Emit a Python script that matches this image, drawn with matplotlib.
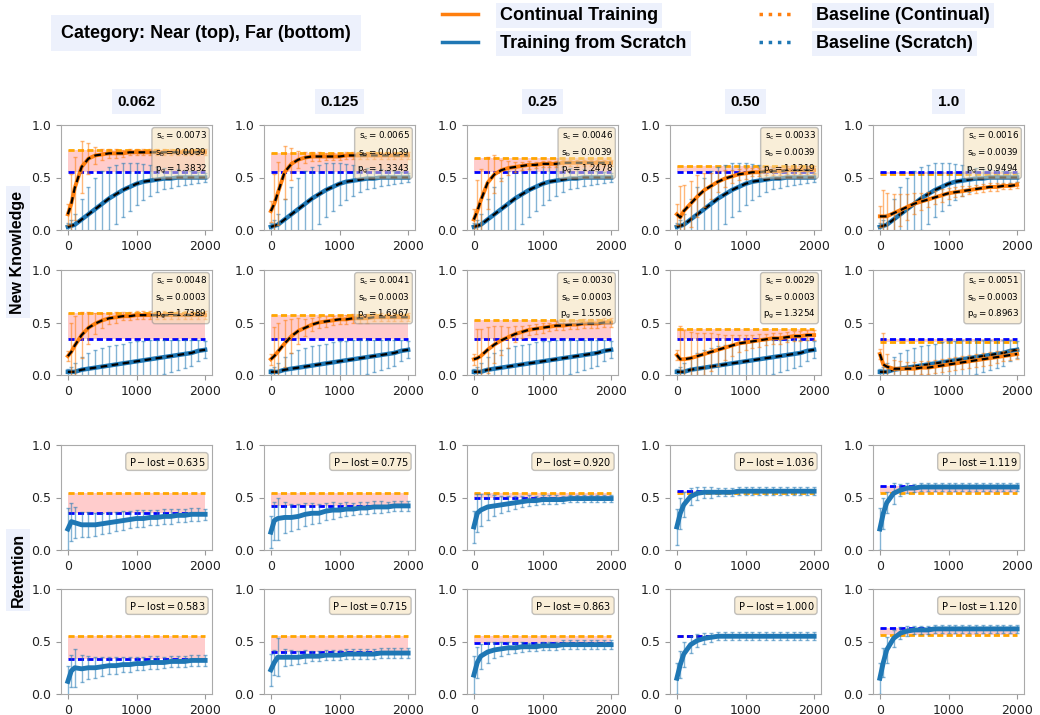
import numpy as np
import matplotlib
matplotlib.use('Agg')
import matplotlib.pyplot as plt
from matplotlib.lines import Line2D

# paso de entrenamiento (eje x comun)
steps = [0, 50, 100, 200, 300, 400, 500, 600, 700, 800, 900, 1000,
         1100, 1200, 1300, 1400, 1500, 1600, 1700, 1800, 1900, 2000]
col_labels = ['0.062', '0.125', '0.25', '0.50', '1.0']

# ---- New Knowledge, Near (fila 1) ----
scratch_near = [0.03, 0.04, 0.05, 0.10, 0.15, 0.20, 0.25, 0.30, 0.34, 0.38, 0.41, 0.44,
                0.46, 0.47, 0.48, 0.49, 0.49, 0.50, 0.50, 0.50, 0.50, 0.50]
scratch_near_err = [0.04, 0.06, 0.10, 0.20, 0.26, 0.30, 0.31, 0.30, 0.28, 0.26, 0.23, 0.20,
                    0.17, 0.15, 0.12, 0.10, 0.09, 0.08, 0.07, 0.06, 0.05, 0.04]
cont_near = [
    [0.15, 0.25, 0.40, 0.60, 0.68, 0.71, 0.72, 0.73, 0.73, 0.73, 0.74, 0.74,
     0.74, 0.74, 0.74, 0.74, 0.74, 0.74, 0.74, 0.74, 0.74, 0.74],
    [0.18, 0.25, 0.35, 0.55, 0.63, 0.67, 0.69, 0.70, 0.70, 0.70, 0.70, 0.70,
     0.71, 0.71, 0.71, 0.71, 0.71, 0.71, 0.71, 0.71, 0.71, 0.71],
    [0.10, 0.18, 0.28, 0.45, 0.53, 0.57, 0.59, 0.60, 0.61, 0.62, 0.62, 0.63,
     0.63, 0.63, 0.64, 0.64, 0.64, 0.64, 0.64, 0.64, 0.64, 0.64],
    [0.15, 0.12, 0.18, 0.25, 0.32, 0.38, 0.42, 0.46, 0.49, 0.51, 0.53, 0.54,
     0.55, 0.55, 0.56, 0.56, 0.56, 0.57, 0.57, 0.57, 0.57, 0.57],
    [0.13, 0.13, 0.13, 0.16, 0.19, 0.22, 0.25, 0.27, 0.29, 0.31, 0.33, 0.35,
     0.36, 0.37, 0.38, 0.39, 0.40, 0.41, 0.41, 0.42, 0.42, 0.43],
]
cont_near_err = [
    [0.10, 0.28, 0.30, 0.25, 0.15, 0.08, 0.05, 0.04, 0.04, 0.03, 0.03, 0.03,
     0.03, 0.03, 0.03, 0.03, 0.03, 0.03, 0.03, 0.03, 0.03, 0.03],
    [0.10, 0.28, 0.30, 0.25, 0.15, 0.08, 0.05, 0.04, 0.04, 0.03, 0.03, 0.03,
     0.03, 0.03, 0.03, 0.03, 0.03, 0.03, 0.03, 0.03, 0.03, 0.03],
    [0.10, 0.30, 0.30, 0.25, 0.18, 0.10, 0.07, 0.05, 0.04, 0.04, 0.03, 0.03,
     0.03, 0.03, 0.03, 0.03, 0.03, 0.03, 0.03, 0.03, 0.03, 0.03],
    [0.10, 0.30, 0.25, 0.22, 0.20, 0.16, 0.12, 0.10, 0.08, 0.06, 0.05, 0.05,
     0.04, 0.04, 0.04, 0.04, 0.04, 0.04, 0.04, 0.04, 0.04, 0.04],
    [0.10, 0.25, 0.22, 0.18, 0.15, 0.12, 0.10, 0.08, 0.07, 0.06, 0.06, 0.05,
     0.05, 0.05, 0.04, 0.04, 0.04, 0.04, 0.04, 0.03, 0.03, 0.03],
]
base_cont_near = [0.76, 0.73, 0.69, 0.61, 0.53]
base_scr_near = [0.55, 0.55, 0.55, 0.55, 0.55]
stats_near = [(0.0073, 0.0039, 1.3832), (0.0065, 0.0039, 1.3343), (0.0046, 0.0039, 1.2478),
              (0.0033, 0.0039, 1.1219), (0.0016, 0.0039, 0.9494)]

# ---- New Knowledge, Far (fila 2) ----
scratch_far = [0.03, 0.03, 0.03, 0.05, 0.06, 0.07, 0.08, 0.09, 0.10, 0.11, 0.12, 0.13,
               0.14, 0.15, 0.16, 0.17, 0.18, 0.19, 0.20, 0.21, 0.23, 0.24]
scratch_far_err = [0.03, 0.05, 0.08, 0.12, 0.15, 0.17, 0.18, 0.19, 0.19, 0.19, 0.19, 0.19,
                   0.18, 0.18, 0.17, 0.16, 0.15, 0.14, 0.13, 0.12, 0.10, 0.08]
cont_far = [
    [0.18, 0.22, 0.28, 0.38, 0.45, 0.49, 0.52, 0.54, 0.55, 0.56, 0.56, 0.57,
     0.57, 0.57, 0.57, 0.57, 0.57, 0.57, 0.57, 0.57, 0.57, 0.57],
    [0.15, 0.18, 0.22, 0.30, 0.37, 0.42, 0.45, 0.48, 0.50, 0.51, 0.52, 0.53,
     0.53, 0.54, 0.54, 0.54, 0.55, 0.55, 0.55, 0.55, 0.55, 0.55],
    [0.15, 0.16, 0.18, 0.24, 0.29, 0.33, 0.36, 0.39, 0.41, 0.43, 0.44, 0.45,
     0.46, 0.47, 0.47, 0.48, 0.48, 0.49, 0.49, 0.49, 0.50, 0.50],
    [0.19, 0.15, 0.15, 0.16, 0.18, 0.20, 0.22, 0.24, 0.26, 0.28, 0.30, 0.31,
     0.32, 0.33, 0.34, 0.35, 0.35, 0.36, 0.37, 0.37, 0.38, 0.38],
    [0.20, 0.10, 0.08, 0.06, 0.06, 0.06, 0.06, 0.07, 0.07, 0.08, 0.09, 0.10,
     0.11, 0.12, 0.13, 0.14, 0.15, 0.16, 0.17, 0.18, 0.19, 0.20],
]
cont_far_err = [
    [0.05, 0.28, 0.28, 0.22, 0.15, 0.10, 0.07, 0.05, 0.05, 0.04, 0.04, 0.04,
     0.04, 0.04, 0.04, 0.04, 0.04, 0.04, 0.04, 0.04, 0.04, 0.04],
    [0.05, 0.28, 0.28, 0.22, 0.16, 0.12, 0.08, 0.06, 0.05, 0.05, 0.04, 0.04,
     0.04, 0.04, 0.04, 0.04, 0.04, 0.04, 0.04, 0.04, 0.04, 0.04],
    [0.05, 0.28, 0.26, 0.22, 0.18, 0.14, 0.10, 0.08, 0.06, 0.05, 0.05, 0.05,
     0.04, 0.04, 0.04, 0.04, 0.04, 0.04, 0.04, 0.04, 0.04, 0.04],
    [0.05, 0.32, 0.28, 0.25, 0.22, 0.20, 0.18, 0.15, 0.12, 0.10, 0.08, 0.07,
     0.06, 0.06, 0.05, 0.05, 0.05, 0.05, 0.05, 0.05, 0.05, 0.05],
    [0.05, 0.30, 0.12, 0.08, 0.07, 0.06, 0.06, 0.06, 0.06, 0.06, 0.06, 0.06,
     0.06, 0.06, 0.06, 0.06, 0.06, 0.06, 0.06, 0.05, 0.05, 0.05],
]
base_cont_far = [0.59, 0.57, 0.52, 0.44, 0.31]
base_scr_far = [0.34, 0.34, 0.34, 0.34, 0.34]
stats_far = [(0.0048, 0.0003, 1.7389), (0.0041, 0.0003, 1.6967), (0.0030, 0.0003, 1.5506),
             (0.0029, 0.0003, 1.3254), (0.0051, 0.0003, 0.8963)]

# ---- Retention, Near (fila 3) ----
ret_near = [
    [0.20, 0.27, 0.26, 0.24, 0.24, 0.24, 0.25, 0.26, 0.27, 0.28, 0.29, 0.30,
     0.30, 0.31, 0.31, 0.32, 0.32, 0.33, 0.33, 0.34, 0.34, 0.34],
    [0.17, 0.28, 0.30, 0.31, 0.31, 0.32, 0.34, 0.35, 0.35, 0.37, 0.38, 0.38,
     0.39, 0.39, 0.40, 0.40, 0.41, 0.41, 0.41, 0.42, 0.42, 0.42],
    [0.22, 0.35, 0.38, 0.41, 0.42, 0.43, 0.44, 0.45, 0.46, 0.47, 0.47, 0.48,
     0.48, 0.48, 0.48, 0.49, 0.49, 0.49, 0.49, 0.49, 0.49, 0.49],
    [0.22, 0.35, 0.43, 0.51, 0.54, 0.55, 0.55, 0.55, 0.55, 0.55, 0.56, 0.56,
     0.56, 0.56, 0.56, 0.56, 0.56, 0.56, 0.56, 0.56, 0.56, 0.56],
    [0.20, 0.35, 0.45, 0.54, 0.57, 0.59, 0.59, 0.60, 0.60, 0.60, 0.60, 0.60,
     0.60, 0.60, 0.60, 0.60, 0.60, 0.60, 0.60, 0.60, 0.60, 0.60],
]
ret_near_err = [
    [0.20, 0.18, 0.15, 0.12, 0.12, 0.11, 0.10, 0.10, 0.09, 0.09, 0.08, 0.08,
     0.08, 0.07, 0.07, 0.07, 0.07, 0.06, 0.06, 0.06, 0.06, 0.05],
    [0.15, 0.18, 0.20, 0.15, 0.13, 0.12, 0.11, 0.10, 0.09, 0.08, 0.08, 0.07,
     0.07, 0.06, 0.06, 0.06, 0.06, 0.06, 0.05, 0.05, 0.05, 0.05],
    [0.15, 0.18, 0.15, 0.12, 0.10, 0.08, 0.07, 0.06, 0.05, 0.05, 0.04, 0.04,
     0.04, 0.04, 0.03, 0.03, 0.03, 0.03, 0.03, 0.03, 0.03, 0.03],
    [0.17, 0.15, 0.12, 0.08, 0.06, 0.05, 0.05, 0.04, 0.04, 0.04, 0.04, 0.04,
     0.04, 0.04, 0.04, 0.04, 0.04, 0.04, 0.04, 0.04, 0.04, 0.04],
    [0.20, 0.15, 0.10, 0.10, 0.06, 0.05, 0.04, 0.04, 0.04, 0.04, 0.04, 0.04,
     0.04, 0.04, 0.04, 0.04, 0.04, 0.04, 0.04, 0.04, 0.04, 0.04],
]
base_cont_ret_near = [0.54, 0.54, 0.54, 0.54, 0.54]
base_scr_ret_near = [0.35, 0.42, 0.50, 0.56, 0.61]
plost_near = [0.635, 0.775, 0.920, 1.036, 1.119]

# ---- Retention, Far (fila 4) ----
ret_far = [
    [0.12, 0.22, 0.25, 0.24, 0.25, 0.25, 0.26, 0.27, 0.27, 0.28, 0.28, 0.29,
     0.29, 0.30, 0.30, 0.30, 0.31, 0.31, 0.31, 0.32, 0.32, 0.32],
    [0.23, 0.30, 0.35, 0.35, 0.35, 0.35, 0.36, 0.36, 0.36, 0.37, 0.37, 0.37,
     0.38, 0.38, 0.38, 0.38, 0.38, 0.39, 0.39, 0.39, 0.39, 0.39],
    [0.18, 0.30, 0.36, 0.40, 0.42, 0.43, 0.44, 0.44, 0.45, 0.45, 0.45, 0.46,
     0.46, 0.46, 0.47, 0.47, 0.47, 0.47, 0.47, 0.47, 0.47, 0.47],
    [0.15, 0.28, 0.38, 0.47, 0.51, 0.53, 0.54, 0.55, 0.55, 0.55, 0.55, 0.55,
     0.55, 0.55, 0.55, 0.55, 0.55, 0.55, 0.55, 0.55, 0.55, 0.55],
    [0.15, 0.30, 0.42, 0.53, 0.58, 0.60, 0.61, 0.61, 0.61, 0.62, 0.62, 0.62,
     0.62, 0.62, 0.62, 0.62, 0.62, 0.62, 0.62, 0.62, 0.62, 0.62],
]
ret_far_err = [
    [0.15, 0.15, 0.18, 0.13, 0.11, 0.10, 0.09, 0.08, 0.08, 0.07, 0.07, 0.06,
     0.06, 0.06, 0.06, 0.05, 0.05, 0.05, 0.05, 0.05, 0.05, 0.05],
    [0.15, 0.12, 0.18, 0.08, 0.07, 0.06, 0.06, 0.05, 0.05, 0.05, 0.05, 0.05,
     0.05, 0.05, 0.05, 0.05, 0.05, 0.05, 0.05, 0.05, 0.05, 0.05],
    [0.18, 0.15, 0.12, 0.10, 0.08, 0.07, 0.06, 0.05, 0.05, 0.04, 0.04, 0.04,
     0.04, 0.04, 0.04, 0.04, 0.04, 0.04, 0.04, 0.04, 0.04, 0.04],
    [0.15, 0.13, 0.12, 0.08, 0.06, 0.05, 0.04, 0.04, 0.04, 0.04, 0.04, 0.04,
     0.04, 0.04, 0.04, 0.04, 0.04, 0.04, 0.04, 0.04, 0.04, 0.04],
    [0.15, 0.14, 0.12, 0.08, 0.06, 0.05, 0.04, 0.04, 0.04, 0.04, 0.04, 0.04,
     0.04, 0.04, 0.04, 0.04, 0.04, 0.04, 0.04, 0.04, 0.04, 0.04],
]
base_cont_ret_far = [0.55, 0.55, 0.55, 0.55, 0.56]
base_scr_ret_far = [0.33, 0.40, 0.49, 0.55, 0.63]
plost_far = [0.583, 0.715, 0.863, 1.000, 1.120]

C_ORANGE = '#ff7f0e'
C_BLUE = '#1f77b4'
BG = '#edf1fc'
BOLD = dict(family='Liberation Sans', fontweight='bold')

W, H = 1040, 715
fig = plt.figure(figsize=(W / 100, H / 100), dpi=100)

lefts = [61, 264, 467, 670, 873]
tops = [125, 270, 445, 589]
aw, ah = 151, 105


def make_ax(col, row):
    ax = fig.add_axes([lefts[col] / W, 1 - (tops[row] + ah) / H, aw / W, ah / H])
    ax.set_ylim(0, 1.0)
    ax.set_xlim(-100, 2100)
    ax.set_yticks([0, 0.5, 1.0])
    ax.set_xticks([0, 1000, 2000])
    ax.tick_params(labelsize=9, colors='#999999', labelcolor='#222222')
    for s in ax.spines.values():
        s.set_edgecolor('#aaaaaa')
    return ax


def baselines(ax, bc, bs):
    ax.fill_between([steps[0], steps[-1]], [bs, bs], [bc, bc], color='red', alpha=0.2, lw=0)
    ax.plot([steps[0], steps[-1]], [bc, bc], color='orange', lw=2, dashes=(2.2, 1.2))
    ax.plot([steps[0], steps[-1]], [bs, bs], color='blue', lw=2, dashes=(2.2, 1.2))


def curve(ax, y, e, color, lw, fit=True):
    ax.errorbar(steps, y, yerr=e, fmt='none', ecolor=color, elinewidth=1,
                capsize=1.5, capthick=1, alpha=0.55)
    ax.plot(steps, y, color=color, lw=lw)
    if fit:
        ax.plot(steps, y, color='black', lw=1.6, dashes=(3, 2))


for c in range(5):
    # fila 1 y 2: nuevo conocimiento
    for row, cont, cerr, scr, serr, bc, bs, st in [
            (0, cont_near[c], cont_near_err[c], scratch_near, scratch_near_err,
             base_cont_near[c], base_scr_near[c], stats_near[c]),
            (1, cont_far[c], cont_far_err[c], scratch_far, scratch_far_err,
             base_cont_far[c], base_scr_far[c], stats_far[c])]:
        ax = make_ax(c, row)
        baselines(ax, bc, bs)
        curve(ax, scr, serr, C_BLUE, 3.2)
        curve(ax, cont, cerr, C_ORANGE, 2.8)
        txt = '$\\mathrm{s_c = %.4f}$\n$\\mathrm{s_b = %.4f}$\n$\\mathrm{p_g = %.4f}$' % st
        ax.text(0.965, 0.96, txt, transform=ax.transAxes, ha='right', va='top',
                fontsize=6.3, linespacing=1.5,
                bbox=dict(boxstyle='round,pad=0.3', facecolor='wheat', alpha=0.5, edgecolor='#888888'))
        if row == 0:
            ax.set_title(col_labels[c], pad=14, fontsize=11,
                         bbox=dict(facecolor=BG, edgecolor='none', pad=4), **BOLD)

    # fila 3 y 4: retencion
    for row, r, re_, bc, bs, pl in [
            (2, ret_near[c], ret_near_err[c], base_cont_ret_near[c], base_scr_ret_near[c], plost_near[c]),
            (3, ret_far[c], ret_far_err[c], base_cont_ret_far[c], base_scr_ret_far[c], plost_far[c])]:
        ax = make_ax(c, row)
        baselines(ax, bc, bs)
        curve(ax, r, re_, C_BLUE, 3.5, fit=False)
        ax.text(0.955, 0.9, '$\\mathrm{P-lost = %.3f}$' % pl, transform=ax.transAxes,
                ha='right', va='top', fontsize=7,
                bbox=dict(boxstyle='round,pad=0.3', facecolor='wheat', alpha=0.5, edgecolor='#888888'))

fig.text(18 / W, 1 - 252 / H, 'New Knowledge', rotation=90, ha='center', va='center',
         fontsize=11.5, bbox=dict(facecolor=BG, edgecolor='none', pad=3), **BOLD)
fig.text(18 / W, 1 - 570 / H, 'Retention', rotation=90, ha='center', va='center',
         fontsize=11.5, bbox=dict(facecolor=BG, edgecolor='none', pad=3), **BOLD)

fig.text(206 / W, 1 - 33 / H, 'Category: Near (top), Far (bottom)', ha='center', va='center',
         fontsize=13, bbox=dict(facecolor=BG, edgecolor='none', pad=7), **BOLD)

handles = [Line2D([], [], color=C_ORANGE, lw=2.5),
           Line2D([], [], color=C_BLUE, lw=2.5),
           Line2D([], [], color=C_ORANGE, lw=2.5, ls=':'),
           Line2D([], [], color=C_BLUE, lw=2.5, ls=':')]
labels = ['Continual Training', 'Training from Scratch', 'Baseline (Continual)', 'Baseline (Scratch)']
leg = fig.legend(handles, labels, loc='upper left', bbox_to_anchor=(426 / W, 1 + 9 / H), ncol=2,
                 frameon=False, handlelength=2.0, handletextpad=1.2, columnspacing=4.0,
                 labelspacing=0.6, prop=dict(family='Liberation Sans', weight='bold', size=13))
for t in leg.get_texts():
    t.set_bbox(dict(facecolor=BG, edgecolor='none', pad=3))

fig.savefig('out.png', dpi=100)
